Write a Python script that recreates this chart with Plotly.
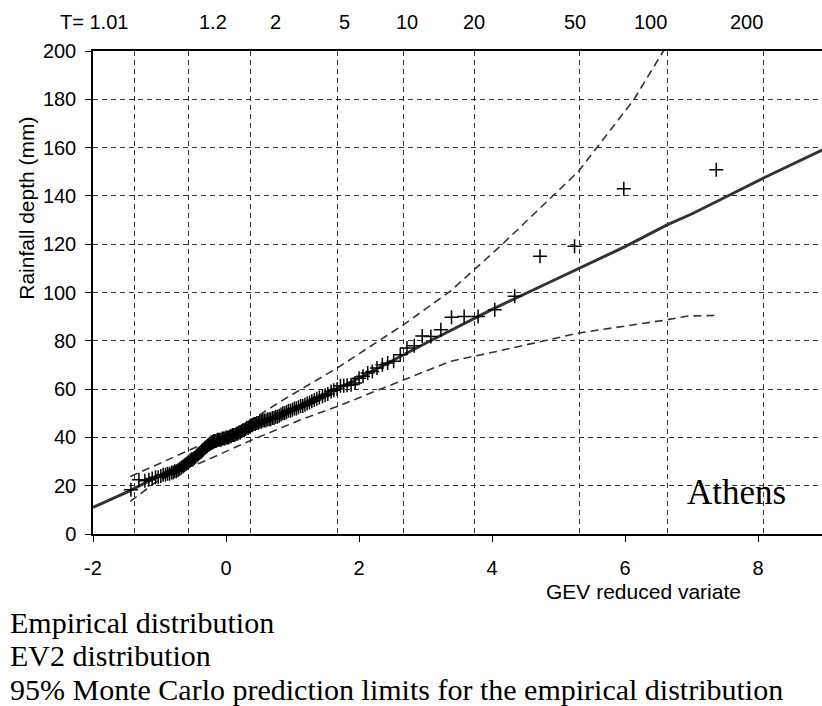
import plotly.graph_objects as go

# ---------------- data ----------------
# Empirical distribution: GEV reduced variate (x) and rainfall depth in mm (y)
emp_x = [-1.43, -1.31, -1.22, -1.16, -1.11, -1.06, -1.02, -0.98, -0.945, -0.91,
         -0.88, -0.85, -0.82, -0.795, -0.77, -0.745, -0.72, -0.695, -0.67, -0.646,
         -0.624, -0.602, -0.58, -0.558, -0.537, -0.517, -0.497, -0.477, -0.456, -0.436,
         -0.417, -0.398, -0.378, -0.359, -0.34, -0.32, -0.30, -0.282, -0.262, -0.243,
         -0.224, -0.206, -0.187, -0.168, -0.15, -0.131, -0.112, -0.094, -0.075, -0.056,
         -0.037, -0.018, 0.001, 0.02, 0.039, 0.058, 0.077, 0.096, 0.115, 0.134,
         0.154, 0.174, 0.194, 0.214, 0.234, 0.254, 0.274, 0.294, 0.314, 0.335,
         0.356, 0.377, 0.398, 0.42, 0.441, 0.463, 0.485, 0.508, 0.53, 0.553,
         0.576, 0.60, 0.624, 0.648, 0.672, 0.697, 0.722, 0.748, 0.774, 0.80,
         0.827, 0.854, 0.882, 0.91, 0.939, 0.968, 0.998, 1.028, 1.058, 1.089,
         1.121, 1.153, 1.186, 1.22, 1.255, 1.29, 1.327, 1.364, 1.403, 1.45,
         1.49, 1.53, 1.58, 1.62, 1.67, 1.72, 1.77, 1.82, 1.88, 1.94,
         2.0, 2.06, 2.13, 2.2, 2.27, 2.35, 2.43, 2.52, 2.62, 2.72,
         2.83, 2.95, 3.08, 3.23, 3.39, 3.58, 3.79, 4.04, 4.34, 4.72,
         5.24, 5.98, 7.37]
emp_y = [18.3, 22.5, 22, 22.5, 23, 23.5, 23.5, 24, 24.5, 24.5,
         25, 25, 25.5, 25.5, 26, 26, 26.5, 27, 27.5, 28,
         28.5, 29, 29.5, 30, 30.5, 31, 31, 31.5, 32, 32.5,
         33, 33.5, 34, 34.5, 35, 35.5, 36, 36.5, 37, 37.5,
         38, 38, 38.5, 38.5, 38.5, 39, 39, 39, 39, 39.5,
         39.5, 39.5, 40, 40, 40, 40.5, 40.5, 41, 41, 41,
         41.5, 41.5, 42, 42, 42.5, 43, 43, 43.5, 44, 44,
         44.5, 45, 45, 45.5, 45.5, 46, 46, 46.5, 46.5, 47,
         47, 47, 47.5, 47.5, 47.5, 48, 48, 48.5, 48.5, 49,
         49.5, 50, 50, 50.5, 51, 51, 51.5, 52, 52, 52.5,
         53, 53, 53.5, 54, 54.5, 55, 55.5, 56, 56.5, 57,
         57.5, 58, 59, 59.5, 60, 61.4, 61.4, 61.6, 61.8, 62.5,
         64.5, 65.3, 66.7, 67.3, 68.7, 70.1, 70.8, 71.5, 74.2, 77,
         78, 82, 81.8, 84.6, 89.8, 90.1, 90.1, 92.9, 98.4, 115,
         119.1, 143, 150.8]

# EV2 distribution (fitted curve)
ev2_x = [-2.0, -1.44, 0, 1, 2, 3, 4, 5, 6, 6.63, 7.0, 7.4, 8.08, 9.0]
ev2_y = [11.0, 18.0, 38.5, 51.5, 64.5, 79, 93, 106, 119, 128, 132.5, 138, 147.4, 159.5]

# 95% Monte Carlo prediction limits
upper_x = [-1.44, -0.59, 0.0, 0.4, 0.82, 1.12, 1.67, 2.67, 3.37, 4.12, 5.3, 6.13, 6.62]
upper_y = [23.8, 34.2, 41.5, 47.5, 54.9, 59.8, 68.7, 86.7, 100.5, 119.1, 150.2, 179.8, 202]
lower_x = [-1.44, -1.04, -0.59, -0.39, 0.37, 1.12, 1.67, 2.67, 3.37, 4.07, 5.3, 6.63, 6.95, 7.37]
lower_y = [13.5, 21.8, 27.3, 29.4, 38.7, 47.3, 52.8, 63.9, 71.5, 75.6, 83.2, 88.7, 90.3, 90.5]

# axis ticks
x_ticks = [-2, 0, 2, 4, 6, 8]
x_ticklabels = ["-2", "0", "2", "4", "6", "8"]
y_ticks = [0, 20, 40, 60, 80, 100, 120, 140, 160, 180, 200]

# return period grid lines (positions on the reduced-variate axis) and their labels
T_grid = [-1.37, -0.567, 0.37, 1.67, 2.67, 3.74, 5.31, 6.63, 8.08]
T_labels = ["T= 1.01", "1.2", "2", "5", "10", "20", "50", "100", "200"]
T_label_x = [-1.98, -0.19, 0.75, 1.78, 2.72, 3.73, 5.24, 6.38, 7.82]

caption_lines = ["Empirical distribution",
                 "EV2 distribution",
                 "95% Monte Carlo prediction limits for the empirical distribution"]

# ---------------- figure ----------------
GRID = "#333333"
LINE = "#333333"
SANS = "Liberation Sans, Arial, sans-serif"
SERIF = "Liberation Serif, Times New Roman, serif"

fig = go.Figure()

fig.add_trace(go.Scatter(x=upper_x, y=upper_y, mode="lines",
                         line=dict(color=LINE, width=1.6, dash="8px,5px"),
                         showlegend=False, hoverinfo="skip"))
fig.add_trace(go.Scatter(x=lower_x, y=lower_y, mode="lines",
                         line=dict(color=LINE, width=1.6, dash="8px,5px"),
                         showlegend=False, hoverinfo="skip"))
fig.add_trace(go.Scatter(x=ev2_x, y=ev2_y, mode="lines",
                         line=dict(color=LINE, width=3),
                         showlegend=False))
fig.add_trace(go.Scatter(x=emp_x, y=emp_y, mode="markers",
                         marker=dict(symbol="cross-thin", size=10,
                                     line=dict(color="black", width=1.5)),
                         showlegend=False))
# invisible trace on the secondary x axis so that its grid is drawn
fig.add_trace(go.Scatter(x=[T_grid[0]], y=[None], xaxis="x2", mode="markers",
                         showlegend=False, hoverinfo="skip"))

x_range = [-2, 8.96]

fig.update_layout(
    width=822, height=706, autosize=False,
    margin=dict(l=93, r=0, t=51, b=172),
    plot_bgcolor="white", paper_bgcolor="white",
    font=dict(family=SANS, size=20, color="black"),
    xaxis=dict(range=x_range, tickvals=x_ticks, ticktext=x_ticklabels,
               showgrid=False, zeroline=False,
               showline=True, linecolor="black", linewidth=1.5, mirror=True,
               ticks="outside", ticklen=6, tickcolor="black", tickwidth=1,
               ticklabelstandoff=9,
               tickfont=dict(family=SANS, size=20, color="black")),
    xaxis2=dict(range=x_range, overlaying="x", side="top",
                tickvals=T_grid, showticklabels=False, ticks="",
                showgrid=True, gridcolor=GRID, gridwidth=1, griddash="5px,4px",
                zeroline=False, showline=False),
    yaxis=dict(range=[0, 200], tickvals=y_ticks,
               showgrid=True, gridcolor=GRID, gridwidth=1, griddash="5px,4px",
               zeroline=False,
               showline=True, linecolor="black", linewidth=1.5,
               ticks="outside", ticklen=6, tickcolor="black", tickwidth=1,
               ticklabelstandoff=5,
               tickfont=dict(family=SANS, size=20, color="black")),
)

annotations = []
for lab, lx in zip(T_labels, T_label_x):
    annotations.append(dict(x=lx, y=1.0607, xref="x", yref="paper", text=lab,
                            showarrow=False, xanchor="center", yanchor="middle",
                            font=dict(family=SANS, size=20, color="black")))
annotations.append(dict(x=-0.0905, y=0.6735, xref="paper", yref="paper",
                        text="Rainfall depth (mm)", textangle=-90, showarrow=False,
                        xanchor="center", yanchor="middle",
                        font=dict(family=SANS, size=21, color="black")))
annotations.append(dict(x=6.275, y=-0.1185, xref="x", yref="paper",
                        text="GEV reduced variate", showarrow=False,
                        xanchor="center", yanchor="middle",
                        font=dict(family=SANS, size=21, color="black")))
annotations.append(dict(x=7.68, y=17.0, xref="x", yref="y", text="Athens",
                        showarrow=False, xanchor="center", yanchor="middle",
                        font=dict(family=SERIF, size=35, color="black")))
for line_text, ly in zip(caption_lines, [-0.1826, -0.252, -0.3224]):
    annotations.append(dict(x=-0.1166, y=ly, xref="paper", yref="paper",
                            text=line_text, showarrow=False,
                            xanchor="left", yanchor="middle",
                            font=dict(family=SERIF, size=30, color="black")))
fig.update_layout(annotations=annotations)

fig.write_html("out.html")
